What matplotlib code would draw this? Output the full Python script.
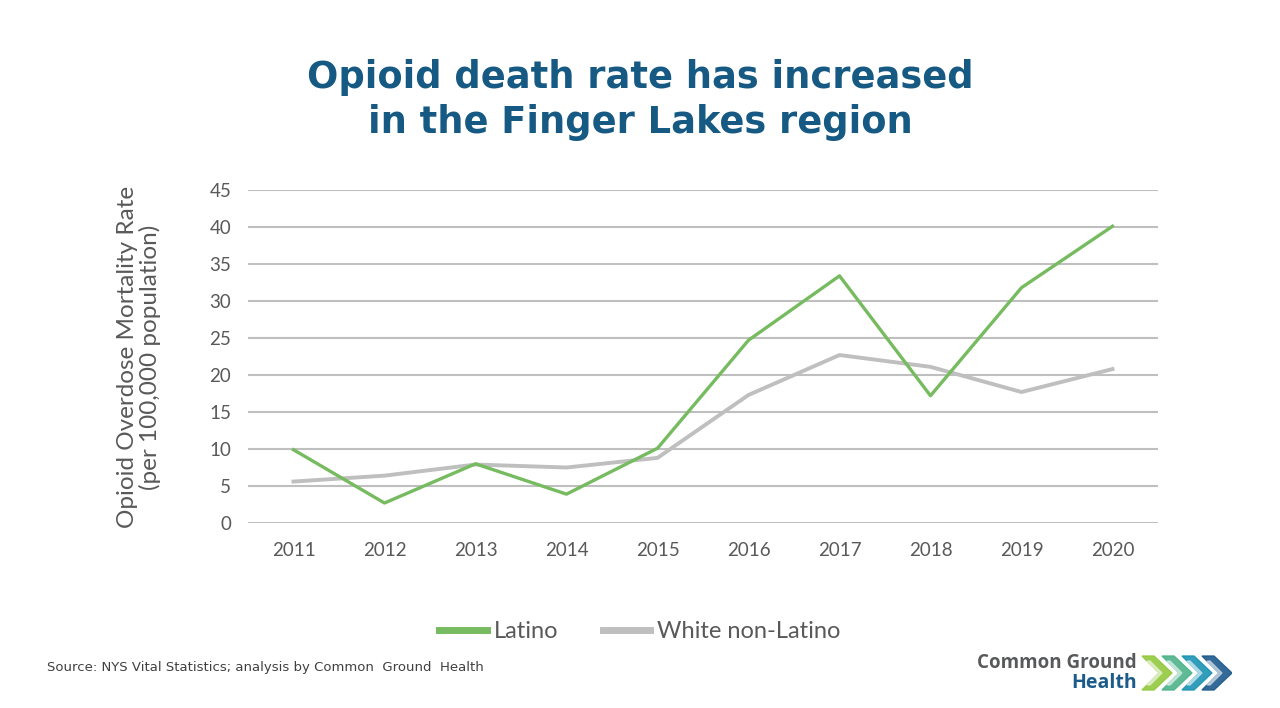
import matplotlib.pyplot as plt
from matplotlib.patches import Polygon

years = ["2011", "2012", "2013", "2014", "2015", "2016", "2017", "2018", "2019", "2020"]
latino = [9.9, 2.7, 8.0, 3.9, 10.1, 24.7, 33.4, 17.2, 31.8, 40.1]
white_non_latino = [5.6, 6.4, 7.9, 7.5, 8.8, 17.3, 22.7, 21.1, 17.7, 20.8]
y_ticks = [0, 5, 10, 15, 20, 25, 30, 35, 40, 45]

green = "#77bb60"
grey = "#bfbfbf"
text_grey = "#595959"
title_blue = "#165a84"

fig = plt.figure(figsize=(12.8, 7.08), dpi=100)
ax = fig.add_axes([248/1280, 1 - 523/708, 910/1280, 333/708])

x = range(len(years))
ax.plot(x, latino, color=green, lw=2.4, label="Latino", zorder=3)
ax.plot(x, white_non_latino, color=grey, lw=2.8, label="White non-Latino", zorder=2)

ax.set_xlim(-0.5, len(years) - 0.5)
ax.set_ylim(0, 45)
ax.set_yticks(y_ticks)
ax.set_xticks(list(x))
ax.set_xticklabels(years)
ax.yaxis.grid(True, color=grey, lw=1.5)
ax.set_axisbelow(True)
for s in ax.spines.values():
    s.set_visible(False)
ax.tick_params(length=0, labelsize=13.5, labelcolor=text_grey)
ax.tick_params(axis="x", pad=14)
ax.tick_params(axis="y", pad=12)
for lab in ax.get_xticklabels() + ax.get_yticklabels():
    lab.set_family("Lato")

fig.text(139/1280, 1 - 357/708, "Opioid Overdose Mortality Rate\n(per 100,000 population)",
         rotation=90, ha="center", va="center", fontsize=17.5, color=text_grey,
         family="Lato", linespacing=1.1)

fig.text(0.5, 1 - 100/708, "Opioid death rate has increased\nin the Finger Lakes region",
         ha="center", va="center", fontsize=26.5, fontweight="bold", color=title_blue,
         family="DejaVu Sans", linespacing=1.3)

leg = fig.legend(loc="center", bbox_to_anchor=(0.5, 1 - 632/708), ncol=2, frameon=False,
                 prop={"family": "Lato", "size": 17}, handlelength=2.0, columnspacing=1.9,
                 handletextpad=0.3)
for t in leg.get_texts():
    t.set_color(text_grey)
for h in leg.get_lines():
    h.set_linewidth(5)

fig.text(47/1280, 1 - 667/708, "Source: NYS Vital Statistics; analysis by Common  Ground  Health",
         ha="left", va="center", fontsize=9.5, color="#404040", family="DejaVu Sans")

# logo
fig.text(1137/1280, 1 - 663/708, "Common Ground", ha="right", va="center",
         fontsize=13.5, fontweight="bold", color="#58595b", family="Open Sans")
fig.text(1137/1280, 1 - 683/708, "Health", ha="right", va="center",
         fontsize=14, fontweight="bold", color="#1d5c8a", family="Open Sans")
lax = fig.add_axes([1140/1280, 1 - 692/708, 92/1280, 38/708])
lax.set_xlim(0, 92)
lax.set_ylim(0, 38)
lax.axis("off")
chev_colors = ["#93c83e", "#4db38a", "#1b94b4", "#1d5a8c"]
for i, c in enumerate(chev_colors):
    x0 = 2 + i * 20
    pts = [(x0, 36), (x0 + 12, 36), (x0 + 30, 19), (x0 + 12, 2), (x0, 2), (x0 + 17, 19)]
    lax.add_patch(Polygon(pts, closed=True, color=c, alpha=0.9))
    inner = [(x0 + 5, 31), (x0 + 8, 31), (x0 + 20, 19), (x0 + 8, 7), (x0 + 5, 7), (x0 + 17, 19)]
    lax.add_patch(Polygon(inner, closed=True, color="white", alpha=0.5))

fig.savefig("out.png", dpi=100)
